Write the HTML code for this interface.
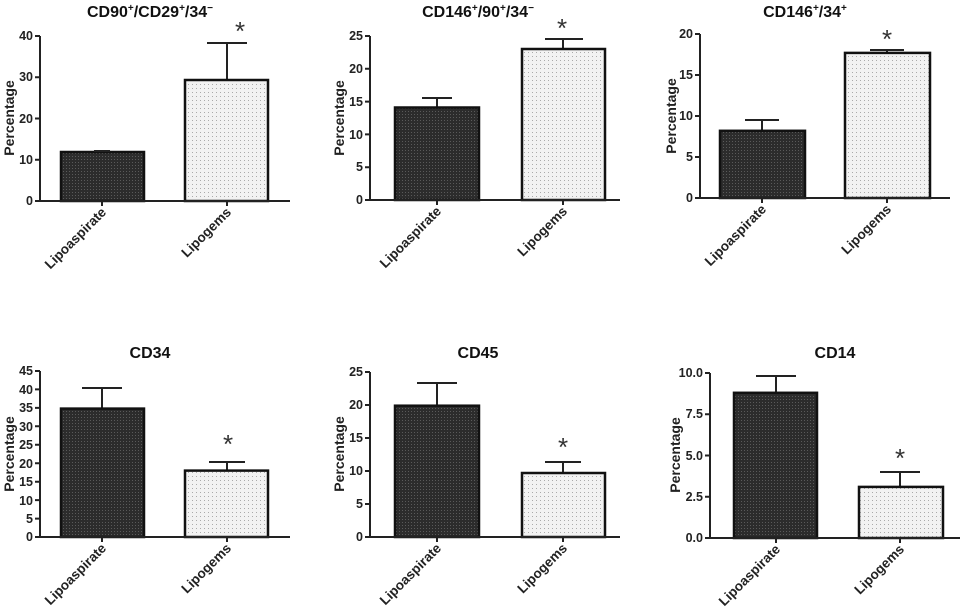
<!DOCTYPE html>
<html><head><meta charset="utf-8"><style>
html,body{margin:0;padding:0;background:#fff;}
svg{display:block;font-family:"Liberation Sans",Arial,sans-serif;font-weight:bold;}
.ax{stroke:#222;stroke-width:2;fill:none}
.b{stroke:#111;stroke-width:2.5}
.tl{font-size:12.5px;text-anchor:end;fill:#222}
.cl{font-size:13.5px;text-anchor:end;fill:#222}
.yl{font-size:14px;text-anchor:middle;fill:#222}
.tt{font-size:16px;text-anchor:middle;fill:#111}
.st{font-size:26px;text-anchor:middle;fill:#333;font-weight:normal}
</style></head><body>
<svg width="967" height="607" viewBox="0 0 967 607">
<defs>
<pattern id="dk" width="3" height="3" patternUnits="userSpaceOnUse"><rect width="3" height="3" fill="#2c2c2c"/><rect width="1" height="1" fill="#5a5a5a"/></pattern>
<pattern id="lt" width="4" height="4" patternUnits="userSpaceOnUse"><rect width="4" height="4" fill="#f2f2f2"/><rect width="1" height="1" fill="#aaa"/></pattern>
</defs>

<!-- Panel 1 -->
<g>
<text class="tt" x="150" y="17">CD90<tspan font-size="10" dy="-6">+</tspan><tspan dy="6">/CD29</tspan><tspan font-size="10" dy="-6">+</tspan><tspan dy="6">/34</tspan><tspan font-size="10" dy="-6">−</tspan></text>
<rect class="b" x="61" y="152" width="83" height="49" fill="url(#dk)"/>
<path class="ax" d="M102 152V151M94 151H110"/>
<path class="ax" d="M227 80V43M207 43H247"/>
<rect class="b" x="185" y="80" width="83" height="121" fill="url(#lt)"/>
<text class="st" x="240" y="40">*</text>
<path class="ax" d="M40 36V201H290M35 36H40M35 77.25H40M35 118.5H40M35 159.75H40M35 201H40M102 201V206M227 201V206"/>
<text class="tl" x="33" y="40">40</text><text class="tl" x="33" y="81">30</text><text class="tl" x="33" y="123">20</text><text class="tl" x="33" y="164">10</text><text class="tl" x="33" y="205">0</text>
<text class="yl" transform="translate(14,118) rotate(-90)">Percentage</text>
<text class="cl" transform="translate(107,213) rotate(-45)">Lipoaspirate</text>
<text class="cl" transform="translate(232,213) rotate(-45)">Lipogems</text>
</g>

<!-- Panel 2 -->
<g>
<text class="tt" x="478" y="17">CD146<tspan font-size="10" dy="-6">+</tspan><tspan dy="6">/90</tspan><tspan font-size="10" dy="-6">+</tspan><tspan dy="6">/34</tspan><tspan font-size="10" dy="-6">−</tspan></text>
<path class="ax" d="M437 107V98M422 98H452"/>
<rect class="b" x="395" y="107.5" width="84" height="92.5" fill="url(#dk)"/>
<path class="ax" d="M563 49V39M545 39H583"/>
<rect class="b" x="522" y="49" width="83" height="151" fill="url(#lt)"/>
<text class="st" x="562" y="37">*</text>
<path class="ax" d="M370 36V200H620M365 36H370M365 68.8H370M365 101.6H370M365 134.4H370M365 167.2H370M365 200H370M437 200V205M563 200V205"/>
<text class="tl" x="363" y="40">25</text><text class="tl" x="363" y="73">20</text><text class="tl" x="363" y="106">15</text><text class="tl" x="363" y="139">10</text><text class="tl" x="363" y="171">5</text><text class="tl" x="363" y="204">0</text>
<text class="yl" transform="translate(344,118) rotate(-90)">Percentage</text>
<text class="cl" transform="translate(442,212) rotate(-45)">Lipoaspirate</text>
<text class="cl" transform="translate(568,212) rotate(-45)">Lipogems</text>
</g>

<!-- Panel 3 -->
<g>
<text class="tt" x="805" y="17">CD146<tspan font-size="10" dy="-6">+</tspan><tspan dy="6">/34</tspan><tspan font-size="10" dy="-6">+</tspan></text>
<path class="ax" d="M762 131V120M745 120H779"/>
<rect class="b" x="720" y="130.8" width="85" height="67.2" fill="url(#dk)"/>
<path class="ax" d="M887 53V50M870 50H904"/>
<rect class="b" x="845" y="52.9" width="85" height="145.1" fill="url(#lt)"/>
<text class="st" x="887" y="48">*</text>
<path class="ax" d="M700 34V198H950M695 34H700M695 75H700M695 116H700M695 157H700M695 198H700M762 198V203M887 198V203"/>
<text class="tl" x="693" y="38">20</text><text class="tl" x="693" y="79">15</text><text class="tl" x="693" y="120">10</text><text class="tl" x="693" y="161">5</text><text class="tl" x="693" y="202">0</text>
<text class="yl" transform="translate(676,116) rotate(-90)">Percentage</text>
<text class="cl" transform="translate(767,210) rotate(-45)">Lipoaspirate</text>
<text class="cl" transform="translate(892,210) rotate(-45)">Lipogems</text>
</g>

<!-- Panel 4 -->
<g>
<text class="tt" x="150" y="358">CD34</text>
<path class="ax" d="M102 408V388M82 388H122"/>
<rect class="b" x="61" y="408.6" width="83" height="128.4" fill="url(#dk)"/>
<path class="ax" d="M227 470V462M209 462H245"/>
<rect class="b" x="185" y="470.6" width="83" height="66.4" fill="url(#lt)"/>
<text class="st" x="228" y="453">*</text>
<path class="ax" d="M40 371V537H290M35 371H40M35 389.4H40M35 407.9H40M35 426.3H40M35 444.8H40M35 463.2H40M35 481.7H40M35 500.1H40M35 518.6H40M35 537H40M102 537V542M227 537V542"/>
<text class="tl" x="33" y="375">45</text><text class="tl" x="33" y="394">40</text><text class="tl" x="33" y="412">35</text><text class="tl" x="33" y="431">30</text><text class="tl" x="33" y="449">25</text><text class="tl" x="33" y="468">20</text><text class="tl" x="33" y="486">15</text><text class="tl" x="33" y="505">10</text><text class="tl" x="33" y="523">5</text><text class="tl" x="33" y="541">0</text>
<text class="yl" transform="translate(14,454) rotate(-90)">Percentage</text>
<text class="cl" transform="translate(107,549) rotate(-45)">Lipoaspirate</text>
<text class="cl" transform="translate(232,549) rotate(-45)">Lipogems</text>
</g>

<!-- Panel 5 -->
<g>
<text class="tt" x="478" y="358">CD45</text>
<path class="ax" d="M437 405V383M417 383H457"/>
<rect class="b" x="395" y="405.7" width="84" height="131.3" fill="url(#dk)"/>
<path class="ax" d="M563 473V462M545 462H581"/>
<rect class="b" x="522" y="473" width="83" height="64" fill="url(#lt)"/>
<text class="st" x="563" y="456">*</text>
<path class="ax" d="M370 372V537H620M365 372H370M365 405H370M365 438H370M365 471H370M365 504H370M365 537H370M437 537V542M563 537V542"/>
<text class="tl" x="363" y="376">25</text><text class="tl" x="363" y="409">20</text><text class="tl" x="363" y="442">15</text><text class="tl" x="363" y="475">10</text><text class="tl" x="363" y="508">5</text><text class="tl" x="363" y="541">0</text>
<text class="yl" transform="translate(344,454) rotate(-90)">Percentage</text>
<text class="cl" transform="translate(442,549) rotate(-45)">Lipoaspirate</text>
<text class="cl" transform="translate(568,549) rotate(-45)">Lipogems</text>
</g>

<!-- Panel 6 -->
<g>
<text class="tt" x="835" y="358">CD14</text>
<path class="ax" d="M776 392V376M756 376H796"/>
<rect class="b" x="734" y="392.8" width="83" height="145.2" fill="url(#dk)"/>
<path class="ax" d="M900 486V472M880 472H920"/>
<rect class="b" x="859" y="486.9" width="84" height="51.1" fill="url(#lt)"/>
<text class="st" x="900" y="467">*</text>
<path class="ax" d="M710 373V538H960M705 373H710M705 414.25H710M705 455.5H710M705 496.75H710M705 538H710M776 538V543M900 538V543"/>
<text class="tl" x="703" y="377">10.0</text><text class="tl" x="703" y="418">7.5</text><text class="tl" x="703" y="460">5.0</text><text class="tl" x="703" y="501">2.5</text><text class="tl" x="703" y="542">0.0</text>
<text class="yl" transform="translate(680,455) rotate(-90)">Percentage</text>
<text class="cl" transform="translate(781,550) rotate(-45)">Lipoaspirate</text>
<text class="cl" transform="translate(905,550) rotate(-45)">Lipogems</text>
</g>
</svg>
</body></html>
